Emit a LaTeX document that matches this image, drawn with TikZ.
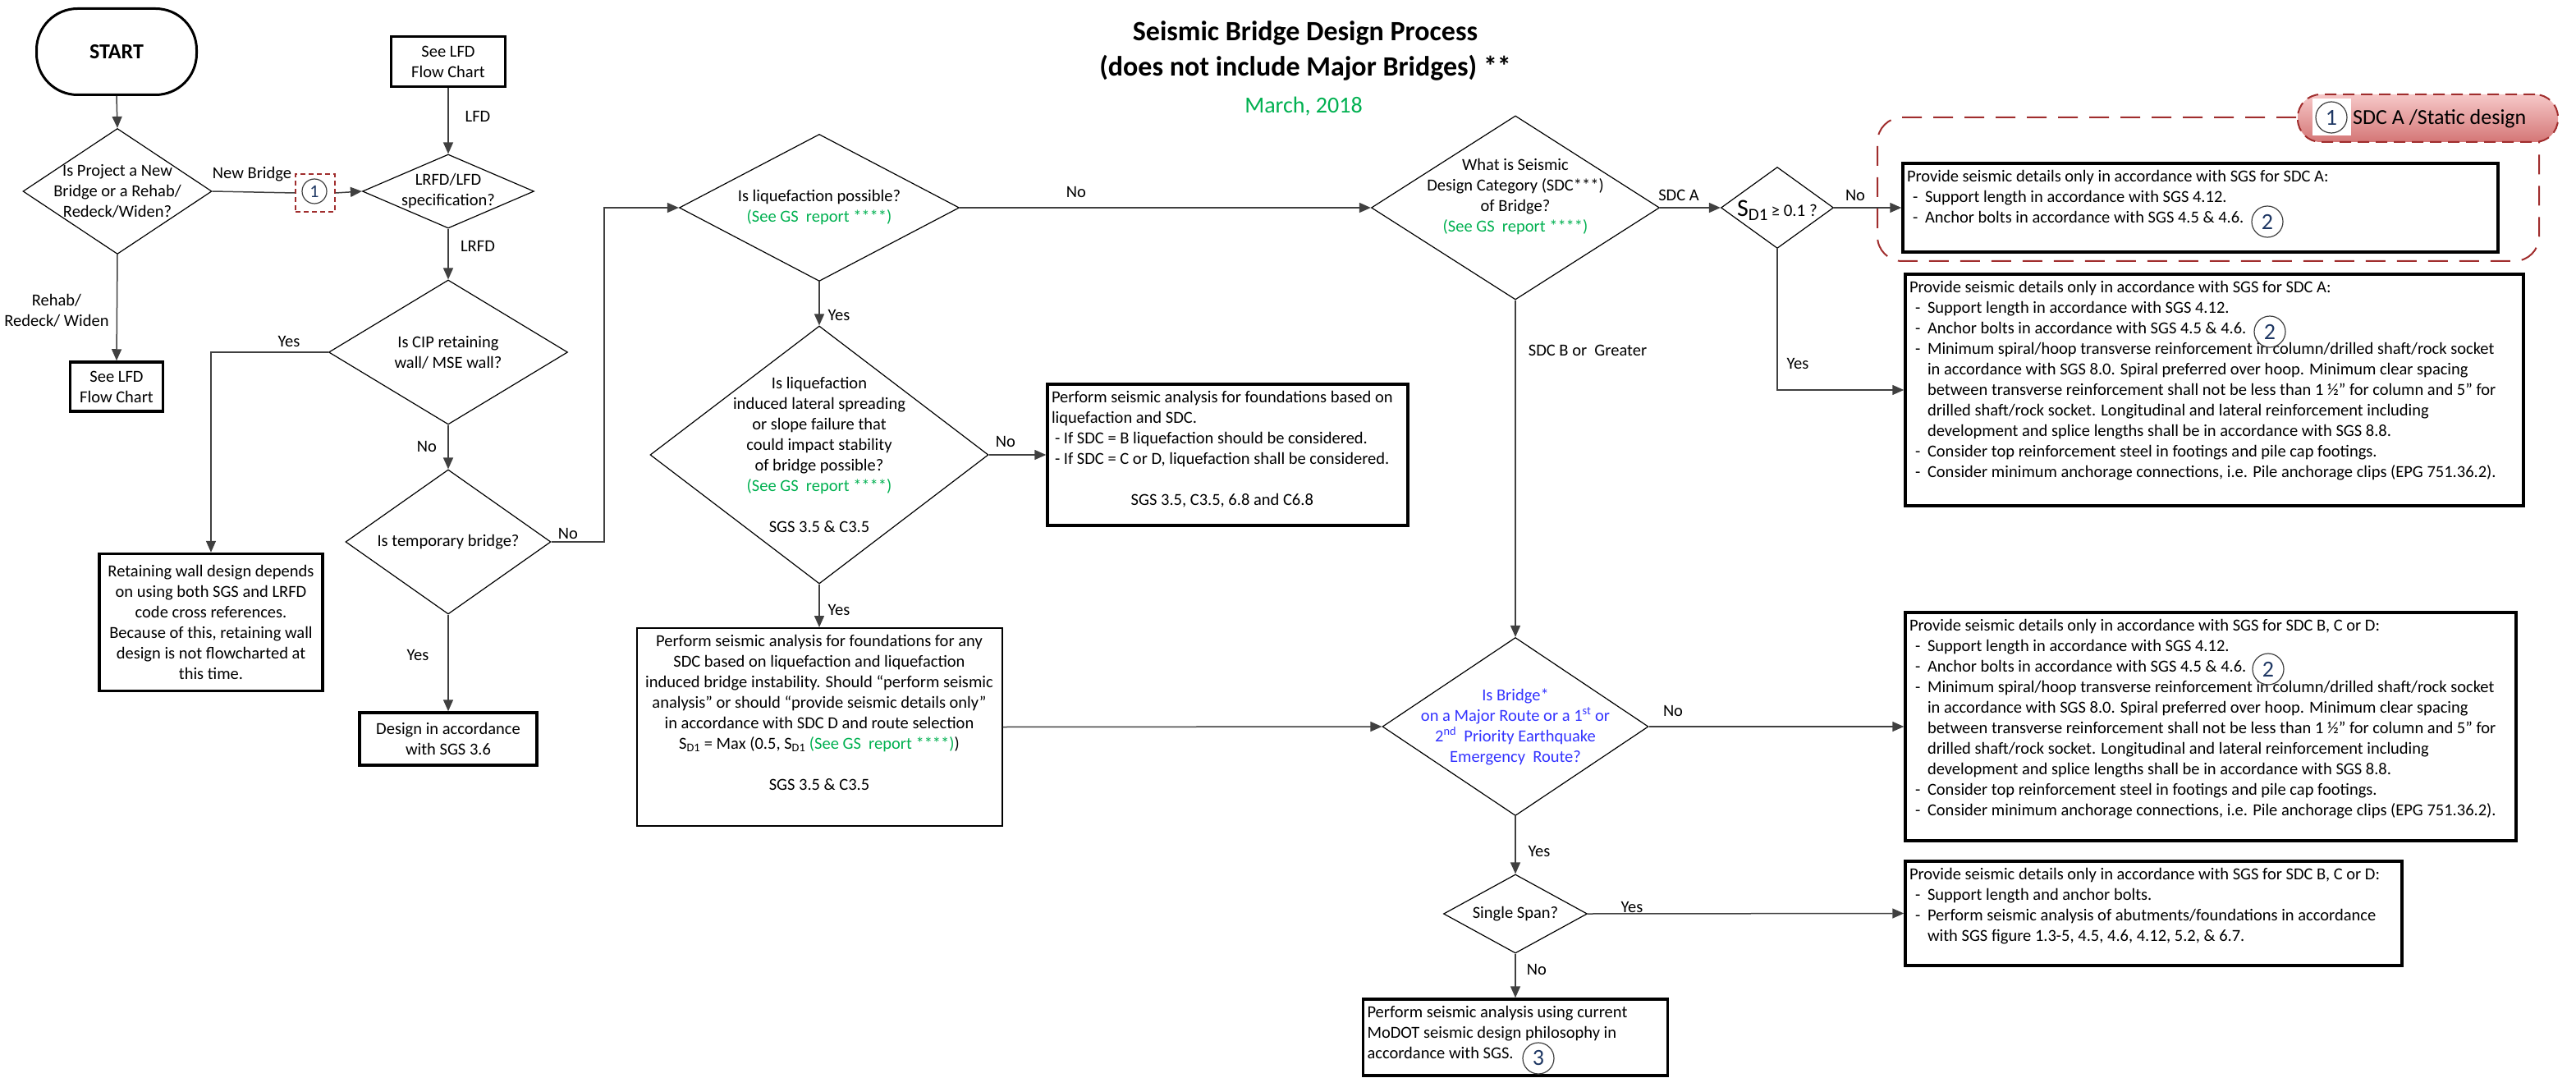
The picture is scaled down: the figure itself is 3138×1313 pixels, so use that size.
\documentclass[tikz,border=0pt]{standalone}
\usepackage{fontspec}
\setmainfont{Carlito}
\usetikzlibrary{shapes.geometric,arrows.meta,positioning}

\definecolor{gsgreen}{RGB}{0,176,80}
\definecolor{routeblue}{RGB}{51,51,255}
\definecolor{dashred}{RGB}{160,45,45}
\definecolor{pilltop}{RGB}{246,200,200}
\definecolor{pillbot}{RGB}{212,118,118}
\definecolor{numnavy}{RGB}{31,56,100}
\colorlet{linegray}{black!75}

\newcommand{\bodyfont}{\fontsize{20.5}{25}\selectfont}
\newcommand{\itemdash}{\makebox[22pt][l]{\hspace{7pt}-}}
\newcommand{\itemgap}{\hspace*{22pt}}
\newcommand{\topbox}[5]{\parbox[c][#2][t]{#1}{#3\begin{tabular}[t]{@{}#4@{}}#5\end{tabular}}}
\newcommand{\gsreport}{\textcolor{gsgreen}{(See GS~ report ****)}}

\tikzstyle{decision}=[diamond, draw, line width=1.2pt, inner sep=0pt]
\tikzstyle{dtext}=[align=center, inner sep=0pt]
\tikzstyle{process}=[rectangle, draw, line width=3.5pt, inner sep=5pt, align=center]
\tikzstyle{terminal}=[rectangle, draw, line width=3pt, rounded corners=50pt, minimum width=195pt, minimum height=105pt, font=\fontsize{26}{30}\selectfont\bfseries]
\tikzstyle{wire}=[draw, line width=1.5pt, linegray]
\tikzstyle{link}=[wire, -{Triangle[length=14pt,width=12pt]}]
\tikzstyle{lbl}=[inner sep=0pt]
\tikzstyle{marker}=[circle, draw=black!75, line width=1.2pt, fill=white, inner sep=0pt, minimum size=38pt, text=numnavy, font=\fontsize{28}{28}\selectfont]
\tikzstyle{zone}=[draw=dashred, line width=2pt, dash pattern=on 24pt off 14pt, rounded corners=30pt, minimum width=806pt, minimum height=175pt]
\tikzstyle{legend}=[draw=dashred, line width=2pt, dash pattern=on 14pt off 8pt, rounded corners=28pt, top color=pilltop, bottom color=pillbot, minimum width=317pt, minimum height=58pt]

\def\downlinks{start/qnew, lfdtop/qspec, qspec/qcip, qnew/lfdbot, qcip/qtemp, qtemp/design, qliq/qlat, qlat/perf2, qsdc/qroute, qroute/qspan, qspan/final}
\def\sidelinks{qliq/qsdc, qlat/perf1, perf2/qroute, qsdc/qsd1, qsd1/boxA1, qroute/boxB1, qspan/boxB2}
\def\edgelabels{{(307,212)/New Bridge}, {(582,142)/LFD}, {(582,300)/LRFD}, {(352,416)/Yes}, {(520,544)/No}, {(692,650)/No}, {(509,798)/Yes}, {(1311,234)/No}, {(1022,384)/Yes}, {(1225,538)/No}, {(1022,743)/Yes}, {(2045,238)/SDC A}, {(2260,238)/No}, {(2190,443)/Yes}, {(1934,427)/SDC B or~ Greater}, {(2038,866)/No}, {(1875,1037)/Yes}, {(1988,1105)/Yes}, {(1872,1181)/No}}

\begin{document}
\begin{tikzpicture}[x=1pt, y=-1pt, every node/.append style={font=\bodyfont}]
  \useasboundingbox (0,0) rectangle (3138,1313);

  % Title
  \node[align=center, font=\fontsize{34}{43}\selectfont\bfseries] (title) at (1590,62) {Seismic Bridge Design Process\\(does not include Major Bridges) **};
  \node[text=gsgreen, font=\fontsize{28}{32}\selectfont] (date) at (1588,130) {March, 2018};

  % Left column
  \node[terminal] (start) at (142,63) {START};
  \node[decision, minimum width=230pt, minimum height=153pt] (qnew) at (143,233) {};
  \node[dtext] (qnew-t) at (qnew) {Is Project a New\\Bridge or a Rehab/\\Redeck/Widen?};
  \node[process, minimum width=113pt, minimum height=60pt] (lfdbot) at (142,471) {See LFD\\Flow Chart};
  \node[process, minimum width=139pt, minimum height=61pt] (lfdtop) at (546,75) {See LFD\\Flow Chart};
  \node[decision, minimum width=209pt, minimum height=90pt] (qspec) at (546,233) {};
  \node[dtext] (qspec-t) at (qspec) {LRFD/LFD\\specification?};
  \node[decision, minimum width=291pt, minimum height=176pt] (qcip) at (546,429) {};
  \node[dtext] (qcip-t) at (qcip) {Is CIP retaining\\wall/ MSE wall?};
  \node[process, minimum width=272pt, minimum height=167pt] (retain) at (257,758) {Retaining wall design depends\\on using both SGS and LRFD\\code cross references.\\Because of this, retaining wall\\design is not flowcharted at\\this time.};
  \node[decision, minimum width=250pt, minimum height=176pt] (qtemp) at (546,660) {};
  \node[dtext] (qtemp-t) at (qtemp) {Is temporary bridge?};
  \node[process, minimum width=216pt, minimum height=64pt] (design) at (546,900) {Design in accordance\\with SGS 3.6};

  % Liquefaction checks
  \node[decision, minimum width=341pt, minimum height=179pt] (qliq) at (998,253) {};
  \node[dtext] (qliq-t) at (qliq) {Is liquefaction possible?\\\gsreport};
  \node[decision, minimum width=412pt, minimum height=314pt] (qlat) at (998,554) {};
  \node[dtext] (qlat-t) at (qlat) {Is liquefaction\\induced lateral spreading\\or slope failure that\\could impact stability\\of bridge possible?\\\gsreport\\[25pt]SGS 3.5 \& C3.5};
  \node[process] (perf1) at (1495.5,554) {\topbox{429pt}{162pt}{\raggedright}{l}{Perform seismic analysis for foundations based on\\liquefaction and SDC.\\\hspace*{4pt}- If SDC = B liquefaction should be considered.\\\hspace*{4pt}- If SDC = C or D, liquefaction shall be considered.\\\\\multicolumn{1}{@{}c@{}}{SGS 3.5, C3.5, 6.8 and C6.8}}};
  \node[process, line width=2pt] (perf2) at (998,885.5) {\topbox{435pt}{231pt}{\centering}{c}{Perform seismic analysis for foundations for any\\SDC based on liquefaction and liquefaction\\induced bridge instability. Should “perform seismic\\analysis” or should “provide seismic details only”\\in accordance with SDC D and route selection\\S\textsubscript{D1} = Max (0.5, S\textsubscript{D1} \gsreport)\\\\SGS 3.5 \& C3.5}};

  % Seismic design category
  \node[decision, minimum width=351pt, minimum height=224pt] (qsdc) at (1846,253) {};
  \node[dtext] (qsdc-t) at (1846,240) {What is Seismic\\Design Category (SDC***)\\of Bridge?\\\gsreport};
  \node[decision, minimum width=137pt, minimum height=99pt] (qsd1) at (2165,253) {};
  \node[dtext] (qsd1-t) at (2165,256) {{\fontsize{30}{30}\selectfont S\textsubscript{D1}}{\fontsize{21}{22}\selectfont\,≥ 0.1 ?}};
  \node[decision, minimum width=324pt, minimum height=217pt] (qroute) at (1846,885) {};
  \node[dtext, text=routeblue] (qroute-t) at (qroute) {Is Bridge*\\on a Major Route or a 1\textsuperscript{st} or\\2\textsuperscript{nd}~ Priority Earthquake\\Emergency~ Route?};
  \node[decision, minimum width=175pt, minimum height=96pt] (qspan) at (1846,1113) {};
  \node[dtext] (qspan-t) at (qspan) {Single Span?};
  \node[process] (final) at (1846,1263.5) {\topbox{361pt}{83pt}{\raggedright}{l}{Perform seismic analysis using current\\MoDOT seismic design philosophy in\\accordance with SGS.}};

  % SDC A zone
  \node[zone] (zoneA) at (2690,230.5) {};
  \node[process] (boxA1) at (2680.5,253) {\topbox{715pt}{98pt}{\raggedright}{l}{Provide seismic details only in accordance with SGS for SDC A:\\\itemdash Support length in accordance with SGS 4.12.\\\itemdash Anchor bolts in accordance with SGS 4.5 \& 4.6.}};
  \node[legend] (legendA) at (2957.5,144) {};
  \node[fill=white, minimum width=47pt, minimum height=45pt, inner sep=0pt] (legendsq) at (2840,143) {};
  \node[marker] (legend1) at (legendsq) {1};
  \node[anchor=west, inner sep=0pt, font=\fontsize{26}{30}\selectfont] (legendtxt) at (2866,145) {SDC A /Static design};

  % Detail boxes
  \node[process] (boxA2) at (2697.5,475) {\topbox{743pt}{272pt}{\raggedright}{l}{Provide seismic details only in accordance with SGS for SDC A:\\\itemdash Support length in accordance with SGS 4.12.\\\itemdash Anchor bolts in accordance with SGS 4.5 \& 4.6.\\\itemdash Minimum spiral/hoop transverse reinforcement in column/drilled shaft/rock socket\\\itemgap in accordance with SGS 8.0. Spiral preferred over hoop. Minimum clear spacing\\\itemgap between transverse reinforcement shall not be less than 1 ½” for column and 5" for\\\itemgap drilled shaft/rock socket. Longitudinal and lateral reinforcement including\\\itemgap development and splice lengths shall be in accordance with SGS 8.8.\\\itemdash Consider top reinforcement steel in footings and pile cap footings.\\\itemdash Consider minimum anchorage connections, i.e. Pile anchorage clips (EPG 751.36.2).}};
  \node[process] (boxB1) at (2693,885) {\topbox{734pt}{268pt}{\raggedright}{l}{Provide seismic details only in accordance with SGS for SDC B, C or D:\\\itemdash Support length in accordance with SGS 4.12.\\\itemdash Anchor bolts in accordance with SGS 4.5 \& 4.6.\\\itemdash Minimum spiral/hoop transverse reinforcement in column/drilled shaft/rock socket\\\itemgap in accordance with SGS 8.0. Spiral preferred over hoop. Minimum clear spacing\\\itemgap between transverse reinforcement shall not be less than 1 ½” for column and 5" for\\\itemgap drilled shaft/rock socket. Longitudinal and lateral reinforcement including\\\itemgap development and splice lengths shall be in accordance with SGS 8.8.\\\itemdash Consider top reinforcement steel in footings and pile cap footings.\\\itemdash Consider minimum anchorage connections, i.e. Pile anchorage clips (EPG 751.36.2).}};
  \node[process] (boxB2) at (2623.5,1112.5) {\topbox{595pt}{117pt}{\raggedright}{l}{Provide seismic details only in accordance with SGS for SDC B, C or D:\\\itemdash Support length and anchor bolts.\\\itemdash Perform seismic analysis of abutments/foundations in accordance\\\itemgap with SGS figure 1.3-5, 4.5, 4.6, 4.12, 5.2, \& 6.7.}};

  % New bridge marker
  \node[draw=dashred, line width=1.5pt, dash pattern=on 6pt off 4pt, minimum width=48pt, minimum height=46pt, inner sep=0pt] (nbmark) at (384,235) {};
  \node[marker, minimum size=30pt, font=\fontsize{22}{22}\selectfont] (nb1) at (383,233) {1};

  % The connections
  \foreach \source/\sink in \downlinks
    \path[link] (\source.south) -- (\sink.north);
  \foreach \source/\sink in \sidelinks
    \path[link] (\source.east) -- (\sink.west);
  \path[wire] (qnew.east) -- (nbmark.west);
  \path[link] (nbmark.east) -- (qspec.west);
  \path[link] (qcip.west) -| (retain.north);
  \coordinate (tempbend) at (736,660);
  \path[link] (qtemp.east) -- (tempbend) |- (qliq.west);
  \path[link] (qsd1.south) |- (boxA2.west);

  % Edge labels
  \foreach \pos/\txt [count=\i] in \edgelabels
    \node[lbl] (lab\i) at \pos {\txt};
  \node[lbl, align=center] (labrehab) at (69,378) {Rehab/\\Redeck/ Widen};

  % Numbered notes
  \foreach \pos/\num [count=\i] in {{(2762,270)/2}, {(2765,404)/2}, {(2763,815)/2}, {(1874,1289)/3}}
    \node[marker] (mark\i) at \pos {\num};
\end{tikzpicture}
\end{document}
